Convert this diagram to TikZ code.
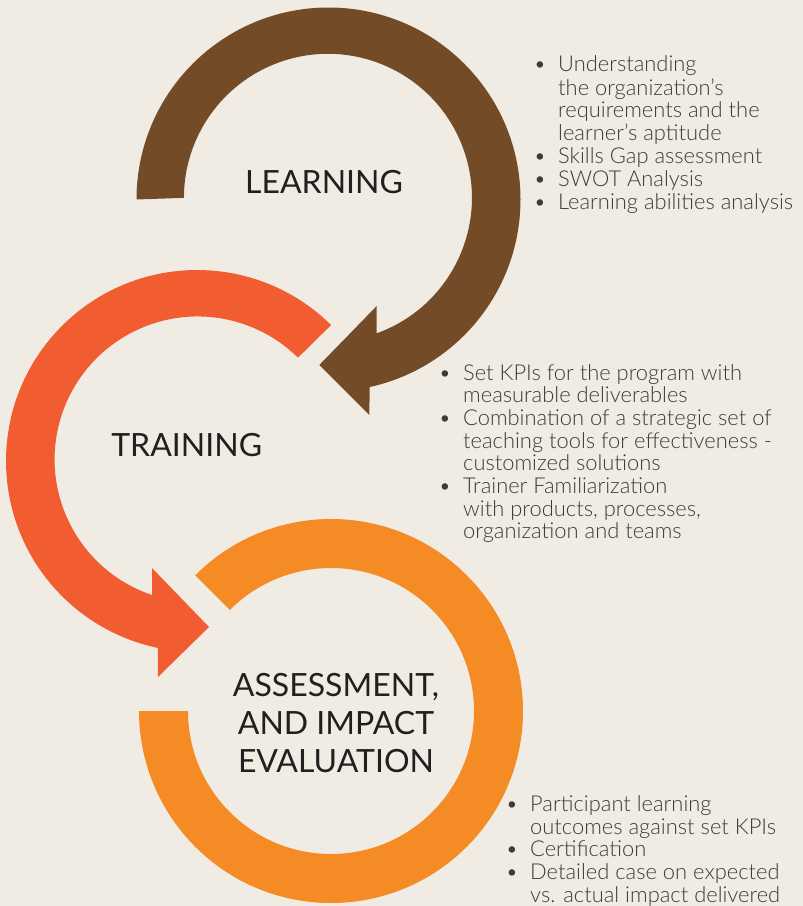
\documentclass[tikz,border=0pt]{standalone}
\usepackage{fontspec}
\setmainfont{Lato}
\newfontfamily\bodyfont{Lato}[UprightFont=* Light]
\definecolor{paper}{HTML}{F0ECE4}
\definecolor{learnbrown}{HTML}{734B27}
\definecolor{trainred}{HTML}{F15D31}
\definecolor{assessorange}{HTML}{F58B24}
\definecolor{titleink}{HTML}{231F20}
\definecolor{noteink}{HTML}{3D3B3A}
\begin{document}
\begin{tikzpicture}[x=1pt,y=-1pt,
  ringtitle/.style={inner sep=0pt, anchor=base, text=titleink,
    font=\fontsize{32}{37.8}\selectfont},
  notes/.style={inner sep=0pt, anchor=base west, text=noteink,
    font=\bodyfont\fontsize{21.9}{22.5}\selectfont},
]
\fill[paper] (0,0) rectangle (803,906);
\useasboundingbox (0,0) rectangle (803,906);

% centres of the three rings
\coordinate (lc) at (328.5,199.5);
\coordinate (tc) at (197,461);
\coordinate (ac) at (331,711);

% LEARNING: clockwise ring ending in an arrowhead pointing left
\fill[learnbrown] (lc) ++(180:192)
  arc[start angle=180, end angle=437.6, radius=192]
  -- (369.3,415) -- (319.3,365) -- (376.7,306) -- (376.7,333.3)
  arc[start angle=430.2, end angle=180, radius=144] -- cycle;

% TRAINING: anticlockwise ring ending in an arrowhead pointing right
\fill[trainred] (tc) ++(-45.4:191)
  arc[start angle=-45.4, end angle=-258.2, radius=191]
  -- (158,677) -- (209,627) -- (152,568) -- (152,595)
  arc[start angle=-251.4, end angle=-45.4, radius=143] -- cycle;

% ASSESSMENT: open ring without arrowhead
\fill[assessorange] (ac) ++(-135:192)
  arc[start angle=-135, end angle=180, radius=192]
  -- ++(49,0)
  arc[start angle=180, end angle=-135, radius=143] -- cycle;

% ring titles
\node[ringtitle] (learn) at (324,193.3) {LEARNING};
\node[ringtitle] (train) at (186.7,456.7) {TRAINING};
\node[ringtitle] (assess) at (336,696.7)
  {\begin{tabular}[t]{@{}c@{}}ASSESSMENT,\\AND IMPACT\\EVALUATION\end{tabular}};

% notes beside each ring
\node[notes] (learnnotes) at (558,71.7) {\begin{tabular}[t]{@{}l@{}}
\llap{•\hspace{12pt}}Understanding\\
the organization’s\\
requirements and the\\
learner’s aptitude\\
\llap{•\hspace{12pt}}Skills Gap assessment\\
\llap{•\hspace{12pt}}SWOT Analysis\\
\llap{•\hspace{12pt}}Learning abilities analysis
\end{tabular}};

\node[notes] (trainnotes) at (463,380) {\begin{tabular}[t]{@{}l@{}}
\llap{•\hspace{12pt}}Set KPIs for the program with\\
measurable deliverables\\
\llap{•\hspace{12pt}}Combination of a strategic set of\\
teaching tools for effectiveness -\\
customized solutions\\
\llap{•\hspace{12pt}}Trainer Familiarization\\
with products, processes,\\
organization and teams
\end{tabular}};

\node[notes] (assessnotes) at (530,811.7) {\begin{tabular}[t]{@{}l@{}}
\llap{•\hspace{12pt}}Participant learning\\
outcomes against set KPIs\\
\llap{•\hspace{12pt}}Certification\\
\llap{•\hspace{12pt}}Detailed case on expected\\
vs. actual impact delivered
\end{tabular}};
\end{tikzpicture}
\end{document}
